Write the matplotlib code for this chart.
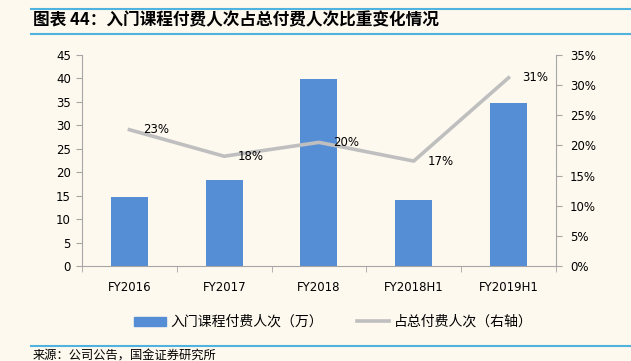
import numpy as np
import matplotlib
matplotlib.use('Agg')
import matplotlib.pyplot as plt
from matplotlib.lines import Line2D

plt.rcParams['font.family'] = ['Noto Sans CJK SC', 'DejaVu Sans']

# Data
categories = ['FY2016', 'FY2017', 'FY2018', 'FY2018H1', 'FY2019H1']
paid_users = [14.7, 18.3, 39.9, 14.0, 34.7]          # 万
paid_share = [22.6, 18.2, 20.5, 17.4, 31.2]          # %
share_labels = ['23%', '18%', '20%', '17%', '31%']

title = '图表 44：入门课程付费人次占总付费人次比重变化情况'
source = '来源：公司公告，国金证券研究所'
bar_name = '入门课程付费人次（万）'
line_name = '占总付费人次（右轴）'

bg = '#fdf9ef'
bar_color = '#558ed5'
line_color = '#bfbfbf'
axis_color = '#a6a6a6'
rule_color = '#4fb3e0'

fig = plt.figure(figsize=(6.31, 3.61), dpi=100, facecolor=bg)
ax = fig.add_axes([0.130, 0.263, 0.751, 0.585])
ax.set_facecolor(bg)
ax2 = ax.twinx()

x = np.arange(len(categories))
ax.bar(x, paid_users, width=0.39, color=bar_color, zorder=2)
ax2.plot(x, paid_share, color=line_color, linewidth=2.6, zorder=3)
for xi, yi, lab in zip(x, paid_share, share_labels):
    ax2.annotate(lab, (xi, yi), xytext=(10, 0), textcoords='offset points',
                 fontsize=8.5, ha='left', va='center', family='DejaVu Sans')

ax.set_xlim(-0.5, len(categories) - 0.5)
ax.set_ylim(0, 45)
ax.set_yticks(np.arange(0, 46, 5))
ax2.set_ylim(0, 35)
ax2.set_yticks(np.arange(0, 36, 5))
ax2.set_yticklabels(['%d%%' % v for v in range(0, 36, 5)])

ax.set_xticks(x)
ax.set_xticklabels(categories)
ax.set_xticks(np.arange(-0.5, len(categories), 1), minor=True)
ax.tick_params(axis='x', which='major', length=0, pad=11, labelsize=8.5)
ax.tick_params(axis='x', which='minor', length=4, color=axis_color, direction='out')
ax.tick_params(axis='y', length=4, color=axis_color, labelsize=8.5, pad=4)
ax2.tick_params(axis='y', length=4, color=axis_color, labelsize=8.5, pad=6)
for a in (ax, ax2):
    for lab in a.get_xticklabels() + a.get_yticklabels():
        lab.set_family('DejaVu Sans')
    a.spines['top'].set_visible(False)
    for s in ['left', 'right', 'bottom']:
        a.spines[s].set_color(axis_color)
ax.spines['right'].set_visible(False)
ax2.spines['left'].set_visible(False)
ax2.spines['bottom'].set_visible(False)

handles = [plt.Rectangle((0, 0), 1, 1, color=bar_color),
           Line2D([0], [0], color=line_color, linewidth=2.6)]
fig.legend(handles, [bar_name, line_name], loc='center', ncol=2,
           bbox_to_anchor=(0.528, 0.108), frameon=False, fontsize=10,
           handlelength=2.3, handleheight=0.6, columnspacing=2.5,
           handletextpad=0.3)

# Title and source rules
fig.add_artist(Line2D([0.049, 1.0], [0.974, 0.974], color=rule_color, lw=1.5))
fig.add_artist(Line2D([0.049, 1.0], [0.905, 0.905], color=rule_color, lw=1.5))
fig.text(0.052, 0.943, title, fontsize=12, fontweight='bold',
         ha='left', va='center')
fig.add_artist(Line2D([0.049, 1.0], [0.042, 0.042], color=rule_color, lw=1.5))
fig.text(0.051, 0.015, source, fontsize=8.8, ha='left', va='center')

fig.savefig('out.png', dpi=100, facecolor=bg)
